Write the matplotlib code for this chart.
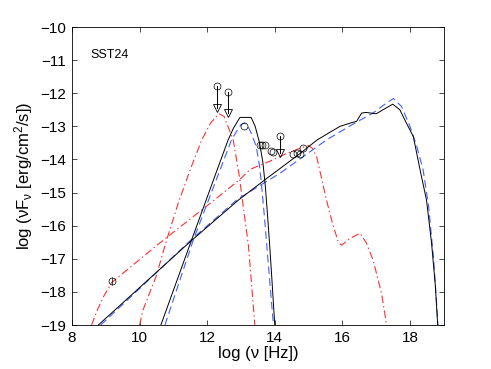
import numpy as np
import matplotlib
matplotlib.use("Agg")
import matplotlib.pyplot as plt

plt.rcParams['font.family'] = ['Liberation Sans', 'DejaVu Sans']
plt.rcParams['mathtext.fontset'] = 'custom'
plt.rcParams['mathtext.rm'] = 'Liberation Sans'
plt.rcParams['mathtext.it'] = 'Liberation Sans'
plt.rcParams['mathtext.default'] = 'regular'
plt.rcParams['lines.scale_dashes'] = False

# model curves: log nu, log nuFnu
sync_black_x = [10.63, 11.54, 12.3, 12.62, 12.78, 12.97, 13.3, 13.42, 13.55, 13.65, 13.72, 13.78, 13.85, 13.92, 14.0]
sync_black_y = [-19.0, -16.43, -14.3, -13.41, -13.05, -12.73, -12.73, -13.0, -13.5, -14.1, -14.8, -15.6, -16.6, -17.7, -19.0]

ic_black_x = [8.78, 10.0, 11.49, 12.92, 13.7, 14.75, 15.24, 15.63, 15.93, 16.27, 16.42, 16.57, 16.7, 17.0, 17.49,
              17.7, 17.85, 18.1, 18.3, 18.49, 18.64, 18.75, 18.82]
ic_black_y = [-19.0, -17.87, -16.49, -15.23, -14.62, -13.82, -13.42, -13.18, -13.0, -12.89, -12.85, -12.6, -12.58,
              -12.62, -12.33, -12.5, -12.81, -13.31, -14.32, -15.23, -16.54, -17.8, -19.0]

sync_blue_x = [10.75, 11.59, 12.72, 12.87, 13.0, 13.1, 13.2, 13.3, 13.45, 13.55, 13.62, 13.7, 13.78, 13.87, 13.96]
sync_blue_y = [-19.0, -16.43, -13.41, -13.15, -12.95, -12.9, -12.98, -13.2, -13.6, -14.2, -14.9, -15.8, -16.8, -17.9, -19.0]

ic_blue_x = [8.85, 10.0, 11.5, 12.9, 13.7, 14.15, 15.53, 16.27, 16.9, 17.3, 17.51, 17.75, 18.0, 18.2, 18.39,
             18.55, 18.7, 18.83]
ic_blue_y = [-19.0, -17.9, -16.45, -15.2, -14.7, -14.42, -13.41, -12.96, -12.6, -12.3, -12.16, -12.4, -13.0, -13.6,
             -14.32, -15.4, -17.0, -19.0]

sync_red_x = [10.0, 10.1, 10.5, 10.8, 11.15, 11.5, 11.84, 12.1, 12.35, 12.5, 12.77, 12.95, 13.12, 13.22, 13.3, 13.41]
sync_red_y = [-19.0, -18.55, -17.5, -16.43, -15.3, -14.3, -13.41, -12.9, -12.62, -12.7, -13.41, -14.5, -15.83,
              -16.6, -17.6, -19.0]

ic_red_x = [8.58, 8.75, 8.93, 9.17, 10.6, 12.23, 12.97, 13.27, 13.86, 14.35, 14.7, 14.99, 15.1, 15.24, 15.38,
            15.53, 15.7, 15.88, 15.98, 16.2, 16.52, 16.7, 16.91, 17.16, 17.31]
ic_red_y = [-19.0, -18.55, -18.15, -17.72, -16.52, -15.21, -14.6, -14.3, -14.05, -13.82, -13.68, -13.58, -13.65,
            -13.92, -14.55, -15.23, -15.9, -16.5, -16.59, -16.4, -16.23, -16.5, -17.04, -18.05, -19.0]

# measured points
det_x = [9.17, 13.09, 13.56, 13.63, 13.71, 13.88, 13.96, 14.55, 14.65, 14.75, 14.84]
det_y = [-17.66, -12.98, -13.55, -13.55, -13.57, -13.74, -13.77, -13.84, -13.8, -13.85, -13.65]
det_err = [0.12, 0, 0, 0, 0, 0, 0, 0, 0, 0, 0]

# upper limits: circle value and where the arrow head sits
ul_x = [12.28, 12.62, 14.15]
ul_y = [-11.77, -11.97, -13.28]
ul_head = [-12.46, -12.61, -13.82]

fig = plt.figure(figsize=(4.91, 3.69), dpi=100)
ax = fig.add_axes([0.1466, 0.1192, 0.7572, 0.8076])

red = '#ff3030'
blue = '#4060ff'
dashdot = (0, (5.5, 2.2, 1.0, 2.2))
dashed = (0, (5.5, 3.0))

ax.plot(sync_red_x, sync_red_y, color=red, lw=0.8, ls=dashdot)
ax.plot(ic_red_x, ic_red_y, color=red, lw=0.8, ls=dashdot)
ax.plot(sync_blue_x, sync_blue_y, color=blue, lw=0.8, ls=dashed)
ax.plot(ic_blue_x, ic_blue_y, color=blue, lw=0.8, ls=dashed)
ax.plot(sync_black_x, sync_black_y, color='k', lw=0.7)
ax.plot(ic_black_x, ic_black_y, color='k', lw=0.7)

ax.errorbar(det_x, det_y, yerr=det_err, fmt='o', ms=5, mfc='none', mec='k', mew=0.5,
            ecolor='k', elinewidth=0.5, capsize=0)
for x, y0, y1 in zip(ul_x, ul_y, ul_head):
    ax.plot([x, x], [y0, y1], color='k', lw=0.7)
ax.plot(ul_x, ul_y, 'o', ms=5, mfc='none', mec='k', mew=0.5)
ax.plot(ul_x, ul_head, 'v', ms=6, mfc='none', mec='k', mew=0.6)

ax.text(8.55, -10.85, 'SST24', fontsize=9, va='center', ha='left')

ax.set_xlim(8, 19)
ax.set_ylim(-19, -10)
ax.set_xticks([8, 10, 12, 14, 16, 18])
ax.set_yticks(np.arange(-19, -9))
ax.set_yticklabels(['\u2212%d' % -v for v in np.arange(-19, -9)])
ax.tick_params(direction='in', top=True, right=True, length=3.5, width=0.5, labelsize=11, pad=4)
for s in ax.spines.values():
    s.set_linewidth(0.6)

ax.set_xlabel('log (\u03bd [Hz])', fontsize=12, labelpad=1)
ax.set_ylabel('log (\u03bdF$_\u03bd$ [erg/cm$^2$/s])', fontsize=12, labelpad=4)

fig.savefig('out.png', dpi=100)
